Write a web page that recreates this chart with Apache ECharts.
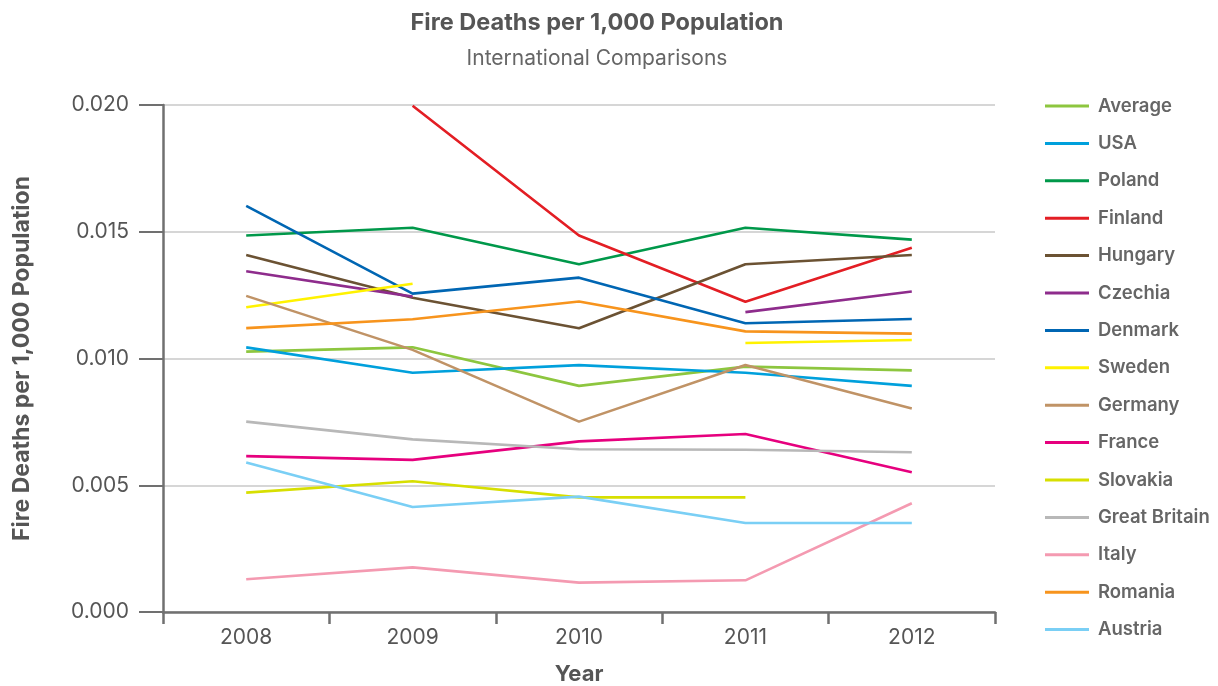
<!DOCTYPE html>
<html>
<head>
<meta charset="utf-8">
<script src="https://cdn.jsdelivr.net/npm/echarts@6/dist/echarts.min.js"></script>
<style>html,body{margin:0;padding:0;background:#fff}#c{width:1218px;height:686px}</style>
</head>
<body>
<div id="c"></div>
<script>
var years = ['2008', '2009', '2010', '2011', '2012'];
var average = [0.01027, 0.01044, 0.00892, 0.00968, 0.00953];
var usa = [0.01044, 0.00944, 0.00974, 0.00944, 0.00892];
var poland = [0.01485, 0.01516, 0.01372, 0.01516, 0.01469];
var finland = [null, 0.01997, 0.01485, 0.01224, 0.01437];
var hungary = [0.01408, 0.0124, 0.01119, 0.01372, 0.01408];
var czechia = [0.01344, 0.01244, null, 0.01183, 0.01264];
var denmark = [0.01602, 0.01256, 0.01319, 0.01139, 0.01156];
var sweden = [0.01202, 0.01295, null, 0.01061, 0.01073];
var germany = [0.01247, 0.01034, 0.00751, 0.00974, 0.00803];
var france = [0.00615, 0.006, 0.00673, 0.00702, 0.00551];
var slovakia = [0.00471, 0.00516, 0.00452, 0.00452, null];
var greatBritain = [0.00751, 0.00681, 0.00642, 0.0064, 0.0063];
var italy = [0.00129, 0.00176, 0.00116, 0.00125, 0.00429];
var romania = [0.0112, 0.01155, 0.01225, 0.01107, 0.01098];
var austria = [0.0059, 0.00414, 0.00455, 0.00351, 0.00351];

var seriesDefs = [
  ['Average', average, '#8dc63f'],
  ['USA', usa, '#00a0dc'],
  ['Poland', poland, '#00984a'],
  ['Finland', finland, '#e31e24'],
  ['Hungary', hungary, '#6b5233'],
  ['Czechia', czechia, '#8e2c8c'],
  ['Denmark', denmark, '#0066b3'],
  ['Sweden', sweden, '#fff200'],
  ['Germany', germany, '#c09366'],
  ['France', france, '#e6007e'],
  ['Slovakia', slovakia, '#d7df01'],
  ['Great Britain', greatBritain, '#b8b8b8'],
  ['Italy', italy, '#f49ab1'],
  ['Romania', romania, '#f7941d'],
  ['Austria', austria, '#7acff5']
];

var chart = echarts.init(document.getElementById('c'), null, {renderer: 'canvas'});
var font = 'Inter, Roboto, sans-serif';
chart.setOption({
  animation: false,
  color: seriesDefs.map(function (d) { return d[2]; }),
  title: [
    {text: 'Fire Deaths per 1,000 Population', left: 592, top: 6, textAlign: 'center',
     textStyle: {fontFamily: font, fontSize: 23.5, fontWeight: 'bold', color: '#555'}},
    {text: 'International Comparisons', left: 592, top: 43.5, textAlign: 'center',
     textStyle: {fontFamily: font, fontSize: 21, fontWeight: 'normal', color: '#666'}}
  ],
  grid: {left: 163, right: 223, top: 105, bottom: 74, outerBoundsMode: 'none', containLabel: false},
  legend: {
    orient: 'vertical', left: 1045, top: 96, padding: 0, icon: 'rect', itemWidth: 44, itemHeight: 3,
    itemGap: 17.4,
    textStyle: {fontFamily: font, fontSize: 18.5, fontWeight: 600, color: '#666', lineHeight: 20, padding: [0, 0, 0, 4]},
    data: seriesDefs.map(function (d) { return d[0]; })
  },
  xAxis: {
    type: 'category', data: years, boundaryGap: true,
    name: 'Year', nameLocation: 'middle', nameGap: 51,
    nameTextStyle: {fontFamily: font, fontSize: 22, fontWeight: 'bold', color: '#555'},
    axisLine: {lineStyle: {color: '#707070', width: 2.5}},
    axisTick: {show: true, length: 12, lineStyle: {color: '#707070', width: 2.5}},
    axisLabel: {fontFamily: font, fontSize: 21, color: '#555', margin: 15},
    splitLine: {show: false}
  },
  yAxis: {
    type: 'value', min: 0, max: 0.02, interval: 0.005,
    name: 'Fire Deaths per 1,000 Population', nameLocation: 'middle', nameGap: 129,
    nameTextStyle: {fontFamily: font, fontSize: 23, fontWeight: 'bold', color: '#555'},
    axisLine: {show: true, lineStyle: {color: '#707070', width: 2.5}},
    axisTick: {show: true, length: 24, lineStyle: {color: '#707070', width: 2}},
    axisLabel: {fontFamily: font, fontSize: 21, color: '#555', margin: 34,
      formatter: function (v) { return v.toFixed(3); }},
    splitLine: {show: true, lineStyle: {color: '#c8c8c8', width: 1.5}}
  },
  series: seriesDefs.map(function (d) {
    return {
      name: d[0], type: 'line', data: d[1], showSymbol: false, symbol: 'none',
      connectNulls: false, lineStyle: {width: 2.6, color: d[2]}, itemStyle: {color: d[2]}
    };
  })
});
</script>
</body>
</html>
